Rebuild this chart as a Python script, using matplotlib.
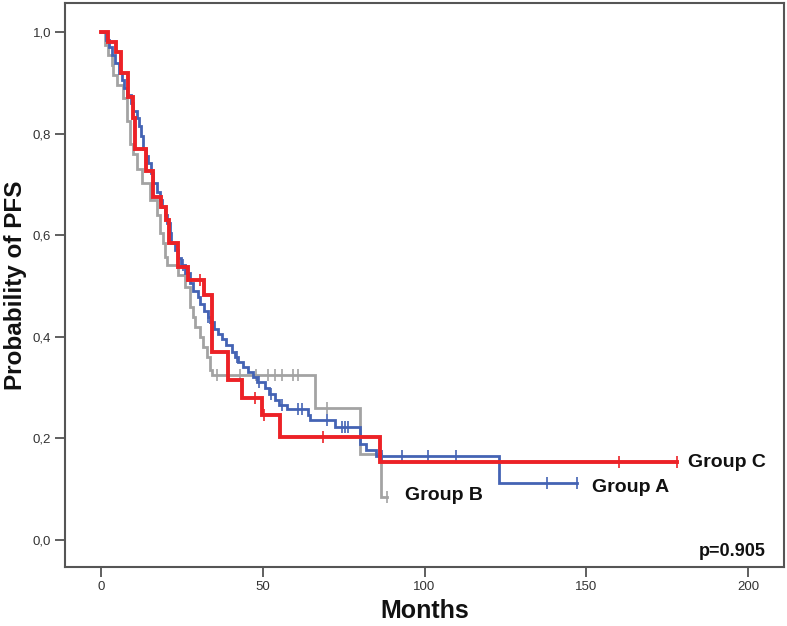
import numpy as np
import matplotlib
matplotlib.use("Agg")
import matplotlib.pyplot as plt

plt.rcParams['font.family'] = ['Liberation Sans', 'DejaVu Sans']

# ---------------- data ----------------
# Group A (blue): event times (months) and survival after each step
a_time = [0, 1.5, 2.5, 3.5, 4.5, 5.5, 6.5, 7.0, 8.0, 9.3, 10.0, 11.0, 11.8, 12.5,
          13.1, 14.0, 14.6, 15.5, 16.2, 17.2, 18.2, 18.8, 19.8, 20.5, 21.2, 21.8,
          22.9, 23.8, 24.9, 26.0, 27.5, 28.5, 30.0, 30.6, 31.8, 33.0, 33.7, 35.0,
          36.2, 37.3, 38.5, 40.4, 41.5, 42.5, 44.0, 45.5, 47.0, 48.1, 50.7, 52.0,
          53.8, 55.0, 57.4, 64.0, 64.6, 72.3, 80.0, 82.0, 85.0, 123.0]
a_surv = [1.0, 0.985, 0.97, 0.955, 0.938, 0.92, 0.905, 0.89, 0.875, 0.86, 0.845,
          0.83, 0.815, 0.795, 0.77, 0.755, 0.742, 0.722, 0.702, 0.685, 0.669,
          0.656, 0.64, 0.625, 0.605, 0.584, 0.57, 0.555, 0.541, 0.525, 0.506,
          0.49, 0.478, 0.465, 0.45, 0.44, 0.43, 0.415, 0.405, 0.395, 0.383,
          0.371, 0.36, 0.35, 0.34, 0.33, 0.32, 0.312, 0.30, 0.288, 0.276, 0.266,
          0.258, 0.246, 0.236, 0.223, 0.19, 0.178, 0.165, 0.112]
a_end = 147.0
a_cens = [25.5, 33.0, 42.0, 49.0, 52.5, 56.0, 61.0, 62.0, 70.0, 74.5, 75.5, 76.4,
          87.0, 93.0, 101.0, 109.7, 138.0, 147.0]

# Group B (gray)
b_time = [0, 1.2, 2.3, 3.3, 3.8, 5.0, 6.9, 8.0, 9.0, 10.0, 11.0, 12.6, 15.1,
          17.2, 18.2, 19.3, 19.8, 20.3, 23.9, 26.0, 27.5, 28.5, 29.1, 30.6,
          31.6, 32.7, 33.7, 34.2, 66.2, 80.0, 86.5]
b_surv = [1.0, 0.974, 0.955, 0.935, 0.915, 0.895, 0.87, 0.825, 0.78, 0.76, 0.73,
          0.702, 0.669, 0.64, 0.604, 0.584, 0.558, 0.541, 0.522, 0.499, 0.459,
          0.44, 0.42, 0.40, 0.38, 0.36, 0.335, 0.325, 0.26, 0.17, 0.085]
b_end = 88.4
b_cens = [36.0, 43.0, 48.0, 51.6, 53.9, 56.0, 59.4, 61.0, 70.0, 88.4]

# Group C (red)
c_time = [0, 2.3, 4.6, 6.3, 8.3, 9.9, 10.6, 14.0, 16.1, 18.6, 20.0, 21.0, 23.8,
          27.0, 32.0, 34.3, 39.3, 43.6, 49.8, 55.3, 86.2]
c_surv = [1.0, 0.98, 0.96, 0.92, 0.873, 0.83, 0.77, 0.727, 0.676, 0.655, 0.63,
          0.585, 0.537, 0.512, 0.482, 0.37, 0.315, 0.28, 0.246, 0.203, 0.153]
c_end = 178.0
c_cens = [30.6, 47.6, 50.5, 68.6, 160.0, 178.0]

x_ticks = [0, 50, 100, 150, 200]
y_ticks = [0.0, 0.2, 0.4, 0.6, 0.8, 1.0]
y_ticklabels = ['0,0', '0,2', '0,4', '0,6', '0,8', '1,0']
p_text = 'p=0.905'

# ---------------- drawing ----------------
fig = plt.figure(figsize=(7.87, 6.26), dpi=100)
ax = fig.add_axes([0.0826, 0.0942, 0.9136, 0.901])


def step_value(times, surv, t):
    idx = np.searchsorted(np.asarray(times), t, side='right') - 1
    return np.asarray(surv)[idx]


def draw_group(times, surv, end, cens, color, lw, z):
    xs = list(times) + [end]
    ys = list(surv) + [surv[-1]]
    ax.step(xs, ys, where='post', color=color, lw=lw, zorder=z,
            solid_joinstyle='miter')
    cy = [step_value(times, surv, t) for t in cens]
    ax.plot(cens, cy, linestyle='none', marker='|', markersize=8,
            markeredgewidth=1.2, color=color, zorder=z)


draw_group(b_time, b_surv, b_end, b_cens, '#a3a3a3', 2.0, 3)
draw_group(a_time, a_surv, a_end, a_cens, '#4463b4', 2.0, 4)
draw_group(c_time, c_surv, c_end, c_cens, '#ec2227', 2.8, 5)

ax.set_xlim(-11.1, 211.1)
ax.set_ylim(-0.053, 1.057)
ax.set_xticks(x_ticks)
ax.set_xticklabels([str(v) for v in x_ticks])
ax.set_yticks(y_ticks)
ax.set_yticklabels(y_ticklabels)
ax.tick_params(axis='both', direction='out', length=7, width=1.2,
               color='#444444', labelcolor='#333333', labelsize=9.5, pad=3)

for sp in ax.spines.values():
    sp.set_color('#555555')
    sp.set_linewidth(1.5)

ax.set_xlabel('Months', fontsize=18, fontweight='bold', color='#111111')
ax.xaxis.set_label_coords(0.5, -0.078)
ax.xaxis.label.set_va('center')
ax.set_ylabel('Probability of PFS', fontsize=17.5, fontweight='bold',
              color='#111111')
ax.yaxis.set_label_coords(-0.0695, 0.5)
ax.yaxis.label.set_va('center')

ax.text(181.5, 0.152, 'Group C', fontsize=14, fontweight='bold',
        va='center', ha='left', color='#111111')
ax.text(151.8, 0.104, 'Group A', fontsize=14, fontweight='bold',
        va='center', ha='left', color='#111111')
ax.text(94.0, 0.087, 'Group B', fontsize=14, fontweight='bold',
        va='center', ha='left', color='#111111')
ax.text(205.3, -0.022, p_text, fontsize=13, fontweight='bold',
        va='center', ha='right', color='#111111')

fig.savefig('out.png', dpi=100)
